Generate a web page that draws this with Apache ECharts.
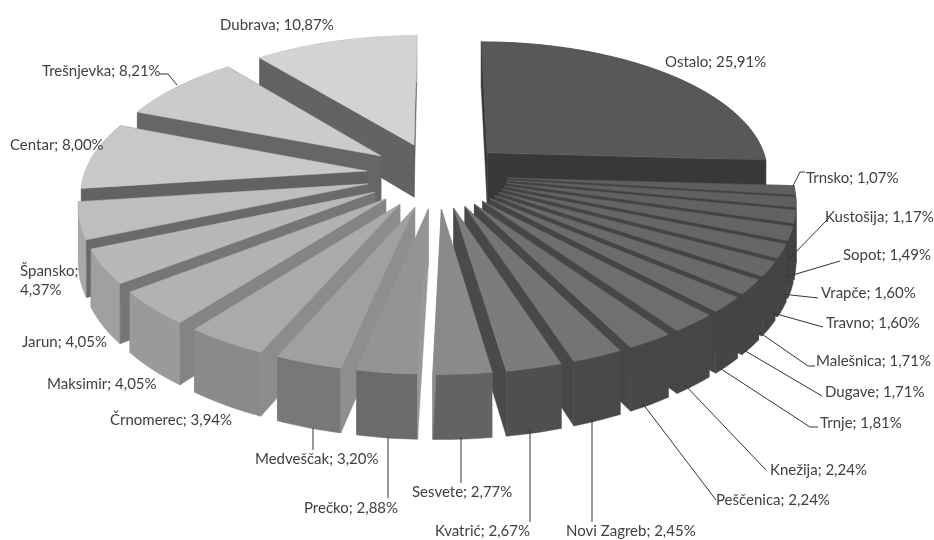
<!DOCTYPE html>
<html><head><meta charset="utf-8">
<script src="https://cdn.jsdelivr.net/npm/echarts@6/dist/echarts.min.js"></script>
<style>html,body{margin:0;padding:0;background:#fff}#c{width:934px;height:540px}</style>
</head><body><div id="c"></div>
<script>
// ---- data (clockwise from 12 o'clock) ----
const categories = ['Ostalo','Trnsko','Kustošija','Sopot','Vrapče','Travno','Malešnica','Dugave','Trnje','Knežija','Peščenica','Novi Zagreb','Kvatrić','Sesvete','Prečko','Medveščak','Črnomerec','Maksimir','Jarun','Špansko','Centar','Trešnjevka','Dubrava'];
const shares = [25.91,1.07,1.17,1.49,1.60,1.60,1.71,1.71,1.81,2.24,2.24,2.45,2.67,2.77,2.88,3.20,3.94,4.05,4.05,4.37,8.00,8.21,10.87];
// ---- styles ----
const topColors = ['#58585a','#5e5e60','#606062','#626264','#646466','#666668','#68686a','#6a6a6c','#6c6c6e','#6e6e70','#707072','#747476','#7c7c7e','#8a8a8c','#949496','#a0a0a2','#aaaaac','#b2b2b4','#b8b8ba','#bebec0','#c8c8ca','#cbcbcd','#d2d3d5'];
const outerColors = ['#3d3d3f','#434345','#434345','#434345','#434345','#444446','#444446','#454547','#454547','#464648','#474749','#49494b','#4f4f51','#636365','#6b6b6d','#78787a','#8a8a8c','#9a9a9c','#a0a0a2','#a8a8aa','#b0b0b2','#b4b4b6','#bcbcbe'];
const wallColors = ['#38383a','#424244','#424244','#434345','#434345','#444446','#444446','#454547','#454547','#464648','#474749','#48484a','#4a4a4c','#8c8c8e','#98989a','#8e8e90','#8c8c8e','#848486','#767678','#6a6a6c','#626264','#666668','#636365'];
// label layout: left x, centre y, leader waypoints after the slice anchor
const labelLayout = [
 {i:0,x:665,y:62},
 {i:1,x:806,y:178,pts:[[800,172],[805,172]],at:[793,186]},
 {i:2,x:825,y:217,pts:[[829,218]],at:[788,260]},
 {i:3,x:843,y:255,pts:[[840,261]],at:[786,277]},
 {i:4,x:821,y:293,pts:[[818,298]],at:[782,294]},
 {i:5,x:826,y:323,pts:[[823,327]],at:[773,313]},
 {i:6,x:816,y:361,pts:[[808,366],[815,366]],at:[759,332]},
 {i:7,x:825,y:392,pts:[[822,396]],at:[742,349]},
 {i:8,x:820,y:423,pts:[[810,427],[818,427]],at:[718,367]},
 {i:9,x:770,y:470,pts:[[766,470]],at:[685,385]},
 {i:10,x:716,y:500,pts:[[716,500]],at:[643,404]},
 {i:11,x:566,y:531,pts:[[592,522]],at:[592,419]},
 {i:12,x:435,y:531,pts:[[530,522]],at:[530,430]},
 {i:13,x:412,y:492,pts:[[461,483]],at:[461,437]},
 {i:14,x:304,y:508,pts:[[388,498]],at:[388,437]},
 {i:15,x:255,y:459,pts:[[313,450]],at:[313,428]},
 {i:16,x:110,y:420},
 {i:17,x:47,y:384},
 {i:18,x:22,y:342},
 {i:19,x:20,y:272,br:true},
 {i:20,x:10,y:145},
 {i:21,x:42,y:71,pts:[[168,74],[160,74]],at:[177,85]},
 {i:22,x:220,y:25}
];
const fmt = v => v.toFixed(2).replace('.', ',') + '%';
// ---- pie projection ----
const CX=437, CY=175, A=283, B=132, P=0.138, HT=54, EXPL=0.25;
const total = shares.reduce((a,b)=>a+b,0);
let acc=0;
const slices = shares.map((v,i)=>{
  const a0=acc/total*Math.PI*2; acc+=v; const a1=acc/total*Math.PI*2;
  return {i,a0,a1,mid:(a0+a1)/2};
});
const order = slices.slice().sort((a,b)=>Math.cos(b.mid)-Math.cos(a.mid));
function proj(th,r,mid,lvl){
  const X=r*Math.sin(th)+EXPL*Math.sin(mid), Z=r*Math.cos(th)+EXPL*Math.cos(mid);
  const s=1/(1+P*Z);
  return [CX+A*X*s, CY-B*Z*s+lvl*HT*s];
}
function poly(points,color){
  return {type:'polygon',shape:{points},style:{fill:color,stroke:color,lineWidth:0.5}};
}
function renderSlice(params,api){
  const sl=slices[api.value(0)], i=sl.i, N=Math.max(6,Math.ceil((sl.a1-sl.a0)*40));
  const topArc=[],botArc=[];
  for(let k=0;k<=N;k++){
    const th=sl.a0+(sl.a1-sl.a0)*k/N;
    topArc.push(proj(th,1,sl.mid,0)); botArc.push(proj(th,1,sl.mid,1));
  }
  const ap=proj(0,0,sl.mid,0), apB=proj(0,0,sl.mid,1);
  const side=Math.sin(sl.mid)>0;
  const hidden=side?[topArc[0],botArc[0]]:[topArc[N],botArc[N]];
  const shown=side?[topArc[N],botArc[N]]:[topArc[0],botArc[0]];
  const children=[
    poly([ap,hidden[0],hidden[1],apB],wallColors[i]),
    poly(topArc.concat(botArc.slice().reverse()),outerColors[i]),
    poly([ap,shown[0],shown[1],apB],wallColors[i]),
    poly([ap].concat(topArc),topColors[i])
  ];
  return {type:'group',children};
}
function renderLabel(params,api){
  const L=labelLayout[api.value(0)];
  const name=categories[L.i]+';', val=fmt(shares[L.i]);
  const text=L.br?name+'\n'+val:name+' '+val;
  const children=[{type:'text',style:{text,x:L.x,y:L.y+(L.br?9:0),font:'15px Lato',fill:'#404040',textAlign:'left',textVerticalAlign:'middle',lineHeight:19}}];
  if(L.pts){children.push({type:'polyline',shape:{points:[L.at].concat(L.pts)},style:{fill:'none',stroke:'#333',lineWidth:1}});}
  return {type:'group',children};
}
const chart=echarts.init(document.getElementById('c'),null,{renderer:'canvas'});
chart.setOption({
  animation:false,
  backgroundColor:'#fff',
  series:[
    {type:'custom',coordinateSystem:'none',silent:true,z:1,renderItem:renderSlice,data:order.map(s=>[s.i])},
    {type:'custom',coordinateSystem:'none',silent:true,z:2,renderItem:renderLabel,data:labelLayout.map((l,k)=>[k])}
  ]
});
</script></body></html>
